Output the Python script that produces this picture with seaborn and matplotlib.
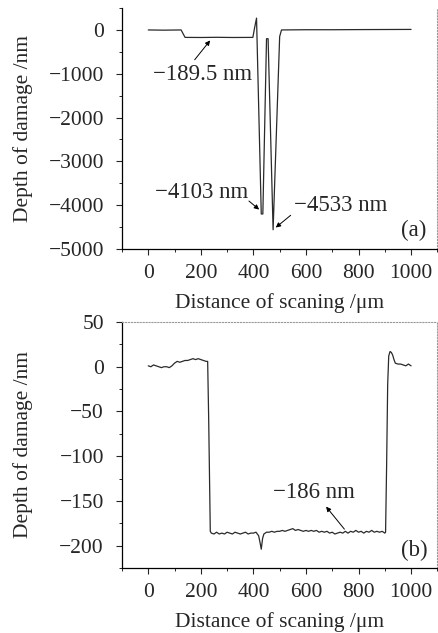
import numpy as np
import pandas as pd
import matplotlib
matplotlib.use("Agg")
import matplotlib.pyplot as plt
import seaborn as sns
from matplotlib.ticker import MultipleLocator

# panel (a) profile
xa = [0, 60, 125, 140, 200, 260, 320, 398, 405, 412, 430, 436, 450, 456, 475, 500, 507, 600, 700, 800, 900, 1000]
ya = [0, -5, 0, -170, -172, -168, -172, -170, 60, 270, -4200, -4200, -200, -200, -4560, -150, 0, 5, 5, 8, 10, 12]

# panel (b) profile
xb = [0, 10, 20, 30, 40, 50, 60, 70, 80, 90, 100, 110, 120, 130, 140, 150, 160, 170, 180, 190,
      200, 210, 220, 226, 230, 236,
      240, 250, 260, 270, 280, 290, 300, 310, 320, 330, 340, 350, 360, 370, 380, 390, 400, 410,
      420, 425, 430, 435, 440, 450, 460, 470, 480, 490, 500, 510, 520, 530, 540, 550, 560, 570,
      580, 590, 600, 610, 620, 630, 640, 650, 660, 670, 680, 690, 700, 710, 720, 730, 740, 750,
      760, 770, 780, 790, 800, 810, 820, 830, 840, 850, 860, 870, 880, 890, 900, 903,
      907, 911, 915, 920, 925, 930, 935, 940, 950, 960, 970, 980, 990, 1000]
yb = [1, 0, 2, 1, 0, -1, 0, 0, -1, 1, 4, 6, 5, 6, 7, 7, 8, 9, 8, 9,
      8, 7, 6, 6, -60, -184,
      -186, -187, -185, -187, -186, -187, -185, -186, -187, -185, -186, -187, -186, -185, -187, -186, -186, -185,
      -189, -196, -204, -192, -187, -185, -185, -184, -185, -184, -184, -183, -184, -183, -182, -181, -183, -182,
      -183, -184, -183, -184, -183, -184, -183, -185, -184, -185, -184, -186, -185, -187, -186, -185, -186, -184,
      -186, -184, -185, -183, -185, -184, -186, -184, -185, -183, -185, -184, -185, -184, -186, -185,
      -110, -20, 12, 17, 16, 13, 8, 4, 3, 3, 2, 1, 3, 1]

df_a = pd.DataFrame({"x": xa, "y": ya})
df_b = pd.DataFrame({"x": xb, "y": yb})

sns.set_style("ticks")
plt.rcParams["font.family"] = ["Liberation Serif", "DejaVu Serif"]
plt.rcParams["font.size"] = 15

fig = plt.figure(figsize=(4.38, 6.33), dpi=100)
ax1 = fig.add_axes([0.2785, 0.6066, 0.72, 0.3807])
ax2 = fig.add_axes([0.2785, 0.1027, 0.72, 0.3886])

line_kw = dict(color="#2a2a2a", linewidth=0.9, estimator=None, sort=False)
sns.lineplot(data=df_a, x="x", y="y", ax=ax1, **line_kw)
sns.lineplot(data=df_b, x="x", y="y", ax=ax2, **line_kw)

for ax in (ax1, ax2):
    ax.set_xlim(-100, 1100)
    ax.xaxis.set_major_locator(MultipleLocator(200))
    ax.xaxis.set_minor_locator(MultipleLocator(100))
    ax.set_xticks([0, 200, 400, 600, 800, 1000])
    ax.set_xlabel("Distance of scaning /\u03bcm", fontsize=15.5, labelpad=7)
    ax.set_ylabel("Depth of damage /nm", fontsize=15.5)
    ax.yaxis.set_label_coords(-0.283, 0.5)
    ax.tick_params(axis="both", which="major", direction="out", length=4, width=0.8,
                   labelsize=15.5, pad=9)
    ax.tick_params(axis="both", which="minor", direction="out", length=2, width=0.7)
    ax.tick_params(axis="x", which="major", pad=7)
    for s in ("left", "bottom"):
        ax.spines[s].set_color("black")
        ax.spines[s].set_linewidth(0.9)
    for s in ("top", "right"):
        ax.spines[s].set_color("#999999")
        ax.spines[s].set_linewidth(0.8)
        ax.spines[s].set_linestyle(":")

ax1.spines["top"].set_visible(False)
ax1.set_ylim(-5000, 500)
ax1.yaxis.set_major_locator(MultipleLocator(1000))
ax1.yaxis.set_minor_locator(MultipleLocator(500))

ax2.set_ylim(-225, 50)
ax2.yaxis.set_major_locator(MultipleLocator(50))
ax2.yaxis.set_minor_locator(MultipleLocator(25))

arrow = dict(arrowstyle="-|>", color="black", lw=0.7, mutation_scale=7)

ax1.text(205, -1020, "\u2212189.5 nm", ha="center", va="center", fontsize=16.5)
ax1.annotate("", xy=(242, -190), xytext=(170, -730), arrowprops=arrow)
ax1.text(204, -3705, "\u22124103 nm", ha="center", va="center", fontsize=16.5)
ax1.annotate("", xy=(430, -4140), xytext=(375, -3864), arrowprops=arrow)
ax1.text(731, -4000, "\u22124533 nm", ha="center", va="center", fontsize=16.5)
ax1.annotate("", xy=(477, -4550), xytext=(550, -4190), arrowprops=arrow)
ax1.text(1011, -4570, "(a)", ha="center", va="center", fontsize=16.5)

ax2.text(632, -141, "\u2212186 nm", ha="center", va="center", fontsize=16.5)
ax2.annotate("", xy=(670, -154), xytext=(753, -184), arrowprops=arrow)
ax2.text(1011, -205, "(b)", ha="center", va="center", fontsize=16.5)

fig.savefig("out.png", dpi=100)
